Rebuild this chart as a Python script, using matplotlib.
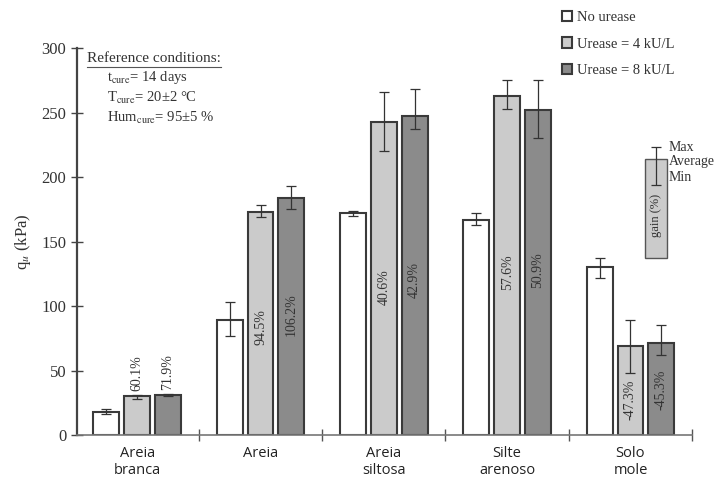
import numpy as np
import matplotlib.pyplot as plt
from matplotlib.patches import Rectangle
from matplotlib.lines import Line2D

plt.rcParams['mathtext.fontset'] = 'stix'

# Dados
soils = ['Areia\nbranca', 'Areia', 'Areia\nsiltosa', 'Silte\narenoso', 'Solo\nmole']
series = ['No urease', 'Urease = 4 kU/L', 'Urease = 8 kU/L']

no_urease = [18, 89, 172, 167, 130]
no_urease_lo = [16, 77, 170, 163, 122]
no_urease_hi = [20, 103, 174, 172, 137]

urease4 = [30, 173, 243, 263, 69]
urease4_lo = [28, 169, 220, 253, 48]
urease4_hi = [31, 178, 266, 275, 89]

urease8 = [31, 184, 247, 252, 71]
urease8_lo = [30, 175, 237, 230, 62]
urease8_hi = [32, 193, 268, 275, 85]

gain4 = ['60.1%', '94.5%', '40.6%', '57.6%', '-47.3%']
gain4_y = [48, 84, 115, 126, 27]
gain8 = ['71.9%', '106.2%', '42.9%', '50.9%', '-45.3%']
gain8_y = [49, 93, 120, 128, 35]

# chave (Max / Average / Min)
key_x = 4.21
key_avg = 214
key_bottom = 137
key_max = 223
key_min = 194

colors = ['white', '#cbcbcb', '#8b8b8b']
edge = '#3a3a3a'

fig = plt.figure(figsize=(7.24, 4.91), dpi=100)
ax = fig.add_axes([0.106, 0.114, 0.85, 0.788])

x = np.arange(len(soils))
w = 0.21
offs = [-0.25, 0, 0.25]
vals = [no_urease, urease4, urease8]
los = [no_urease_lo, urease4_lo, urease8_lo]
his = [no_urease_hi, urease4_hi, urease8_hi]

for k in range(3):
    v = np.array(vals[k])
    err = [v - np.array(los[k]), np.array(his[k]) - v]
    ax.bar(x + offs[k], v, w, color=colors[k], edgecolor=edge, linewidth=1.5,
           label=series[k], zorder=2)
    ax.errorbar(x + offs[k], v, yerr=err, fmt='none', ecolor='#333333',
                elinewidth=0.9, capsize=3.5, capthick=0.9, zorder=3)

for i in range(len(soils)):
    ax.text(x[i] + offs[1], gain4_y[i], gain4[i], rotation=90, ha='center', va='center',
            family='Liberation Serif', fontsize=10, color='#333333', zorder=4)
    ax.text(x[i] + offs[2], gain8_y[i], gain8[i], rotation=90, ha='center', va='center',
            family='Liberation Serif', fontsize=10, color='#333333', zorder=4)

# chave
kw = 0.18
ax.add_patch(Rectangle((key_x - kw / 2, key_bottom), kw, key_avg - key_bottom,
                       facecolor='#cbcbcb', edgecolor='#555555', linewidth=1, zorder=2))
ax.errorbar([key_x], [key_avg], yerr=[[key_avg - key_min], [key_max - key_avg]],
            fmt='none', ecolor='#333333', elinewidth=0.9, capsize=3.5, capthick=0.9, zorder=3)
ax.text(key_x, (key_avg + key_bottom) / 2 - 5, 'gain (%)', rotation=90, ha='center',
        va='center', family='Liberation Serif', fontsize=9, color='#333333')
for lab, yy in zip(['Max', 'Average', 'Min'], [key_max, key_avg - 2, key_min + 6]):
    ax.text(key_x + 0.1, yy, lab, ha='left', va='center', family='Liberation Serif',
            fontsize=10, color='#333333')

ax.set_xlim(-0.49, 4.5)
ax.set_ylim(0, 300)
ax.set_yticks(range(0, 301, 50))
ax.set_xticks([0.5, 1.5, 2.5, 3.5, 4.5])
ax.set_xticklabels([])
ax.set_xticks(x, minor=True)
ax.set_xticklabels(soils, minor=True, family='Open Sans', fontsize=10.5, color='#222222')
ax.tick_params(axis='x', which='minor', length=0, pad=8)
ax.tick_params(axis='x', which='major', direction='inout', length=8, width=1, color='#555555')
ax.tick_params(axis='y', direction='inout', length=8, width=1, color='#444444',
               labelsize=12, labelcolor='#333333')
for t in ax.get_yticklabels():
    t.set_family('Liberation Serif')
for s in ['top', 'right']:
    ax.spines[s].set_visible(False)
ax.spines['left'].set_color('#444444')
ax.spines['left'].set_linewidth(1.6)
ax.spines['bottom'].set_color('#777777')
ax.spines['bottom'].set_linewidth(1.2)
ax.set_ylabel('q$_u$ (kPa)', family='Liberation Serif', fontsize=12, color='#333333', labelpad=6)

# condições de referência
fig.text(87 / 724, 1 - 58 / 491, 'Reference conditions:', family='Liberation Serif',
         fontsize=11, color='#333333', va='center')
fig.add_artist(Line2D([87 / 724, 221 / 724], [1 - 67 / 491, 1 - 67 / 491],
                      color='#555555', linewidth=0.8))
conds = ['t$_{\\mathrm{cure}}$= 14 days', 'T$_{\\mathrm{cure}}$= 20±2 °C',
         'Hum$_{\\mathrm{cure}}$= 95±5 %']
for j, c in enumerate(conds):
    fig.text(107 / 724, 1 - (78 + 20 * j) / 491, c, family='Liberation Serif',
             fontsize=10.5, color='#333333', va='center')

leg = fig.legend(loc='upper left', bbox_to_anchor=(562 / 724, 1 - 11 / 491), frameon=False,
                 prop={'family': 'Liberation Serif', 'size': 10.5}, handlelength=0.7,
                 handleheight=0.7, handletextpad=0.3, labelspacing=0.9, borderaxespad=0,
                 borderpad=0)
for t in leg.get_texts():
    t.set_color('#333333')

fig.savefig('out.png', dpi=100)
